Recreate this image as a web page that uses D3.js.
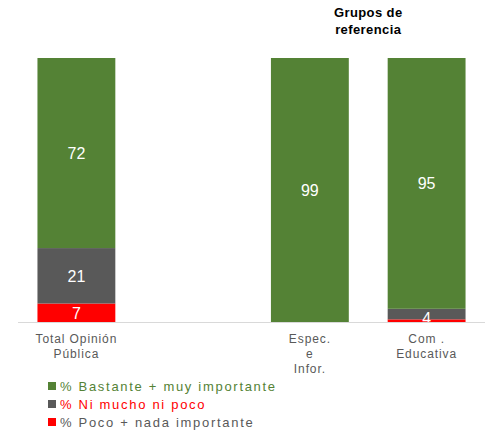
<!DOCTYPE html>
<html>
<head>
<meta charset="utf-8">
<script src="https://cdn.jsdelivr.net/npm/d3@7"></script>
<style>
  body { margin: 0; background: #fff; }
  svg { font-family: "Liberation Sans", Arial, sans-serif; }
  .cat-label { fill: #595959; font-size: 12px; letter-spacing: 0.9px; }
  .value { fill: #fff; font-size: 16px; }
  .legend-title { font-size: 13px; letter-spacing: 1.7px; }
  .group-title { font-size: 13px; font-weight: bold; fill: #000; letter-spacing: 0.4px; }
</style>
</head>
<body>
<div class="chart-container"></div>
<script>
var margin = {top: 58, right: 0, bottom: 112, left: 18};
var width = 485 - margin.left - margin.right;
var height = 434 - margin.top - margin.bottom;

// empty slot between the public and the reference groups
var categories = ['Total Opinión|Pública', '', 'Espec.|e|Infor.', 'Com .|Educativa'];
var bastante = [72, 0, 99, 95];
var niMucho = [21, 0, 0, 4];
var poco = [7, 0, 0, 1];

var seriesKeys = ['poco', 'niMucho', 'bastante'];
var seriesNames = {
  bastante: '% Bastante + muy importante',
  niMucho: '% Ni mucho ni poco',
  poco: '% Poco + nada importante'
};
var colors = {bastante: '#548235', niMucho: '#595959', poco: '#ff0000'};
var legendColors = {bastante: '#548235', niMucho: '#ff0000', poco: '#595959'};

var rows = categories.map((c, i) => ({
  cat: c, bastante: bastante[i], niMucho: niMucho[i], poco: poco[i]
}));
var filled = rows.filter(d => d.cat !== '');

var stack = d3.stack()
  .keys(seriesKeys)
  .offset(d3.stackOffsetExpand);
var layers = stack(filled);

var x = d3.scaleBand()
  .domain(categories)
  .range([margin.left, margin.left + width])
  .paddingInner(0.333)
  .paddingOuter(0.1667);

var y = d3.scaleLinear()
  .domain([0, 1])
  .range([margin.top + height, margin.top]);

var svg = d3.select('.chart-container').append('svg')
  .attr('width', 485)
  .attr('height', 434);

var groups = svg.selectAll('g.layer')
  .data(layers)
  .enter().append('g')
  .attr('class', 'layer')
  .attr('fill', d => colors[d.key]);

groups.selectAll('rect')
  .data(d => d.map(p => ({key: d.key, p: p})))
  .enter().append('rect')
  .attr('x', d => x(d.p.data.cat))
  .attr('width', x.bandwidth())
  .attr('y', d => y(d.p[1]))
  .attr('height', d => y(d.p[0]) - y(d.p[1]));

// axis baseline
svg.append('line')
  .attr('x1', margin.left)
  .attr('x2', margin.left + width)
  .attr('y1', y(0) + 0.5)
  .attr('y2', y(0) + 0.5)
  .attr('stroke', '#d9d9d9')
  .attr('stroke-width', 1);

// value labels, small ones skipped like the original
groups.selectAll('text')
  .data(d => d.map(p => ({key: d.key, p: p, v: p.data[d.key]})).filter(d => d.v >= 2))
  .enter().append('text')
  .attr('class', 'value')
  .attr('text-anchor', 'middle')
  .attr('x', d => x(d.p.data.cat) + x.bandwidth() / 2)
  .attr('y', d => (y(d.p[0]) + y(d.p[1])) / 2)
  .attr('dy', d => d.v < 6 ? '0.6em' : '0.36em')
  .text(d => d.v);

// category labels
categories.forEach(c => {
  if (!c) return;
  var t = svg.append('text')
    .attr('class', 'cat-label')
    .attr('text-anchor', 'middle')
    .attr('transform', `translate(${x(c) + x.bandwidth() / 2}, ${y(0) + 21})`);
  c.split('|').forEach((line, i) => {
    t.append('tspan')
      .attr('x', 0)
      .attr('y', i * 15)
      .text(line);
  });
});

// group title
var title = svg.append('text')
  .attr('class', 'group-title')
  .attr('text-anchor', 'middle')
  .attr('transform', `translate(${(x(categories[2]) + x(categories[3]) + x.bandwidth()) / 2}, 17)`);
title.append('tspan').attr('x', 0).attr('y', 0).text('Grupos de');
title.append('tspan').attr('x', 0).attr('y', 17).text('referencia');

/*
 * Legend
 */
var legend = svg.append('g')
  .attr('transform', 'translate(48, 382)');
['bastante', 'niMucho', 'poco'].forEach((k, i) => {
  var entry = legend.append('g')
    .attr('transform', `translate(0, ${i * 18})`);
  entry.append('rect')
    .attr('width', 8)
    .attr('height', 8)
    .attr('fill', colors[k]);
  entry.append('text')
    .attr('class', 'legend-title')
    .attr('x', 12)
    .attr('y', 9)
    .attr('fill', legendColors[k])
    .text(seriesNames[k]);
});
</script>
</body>
</html>
